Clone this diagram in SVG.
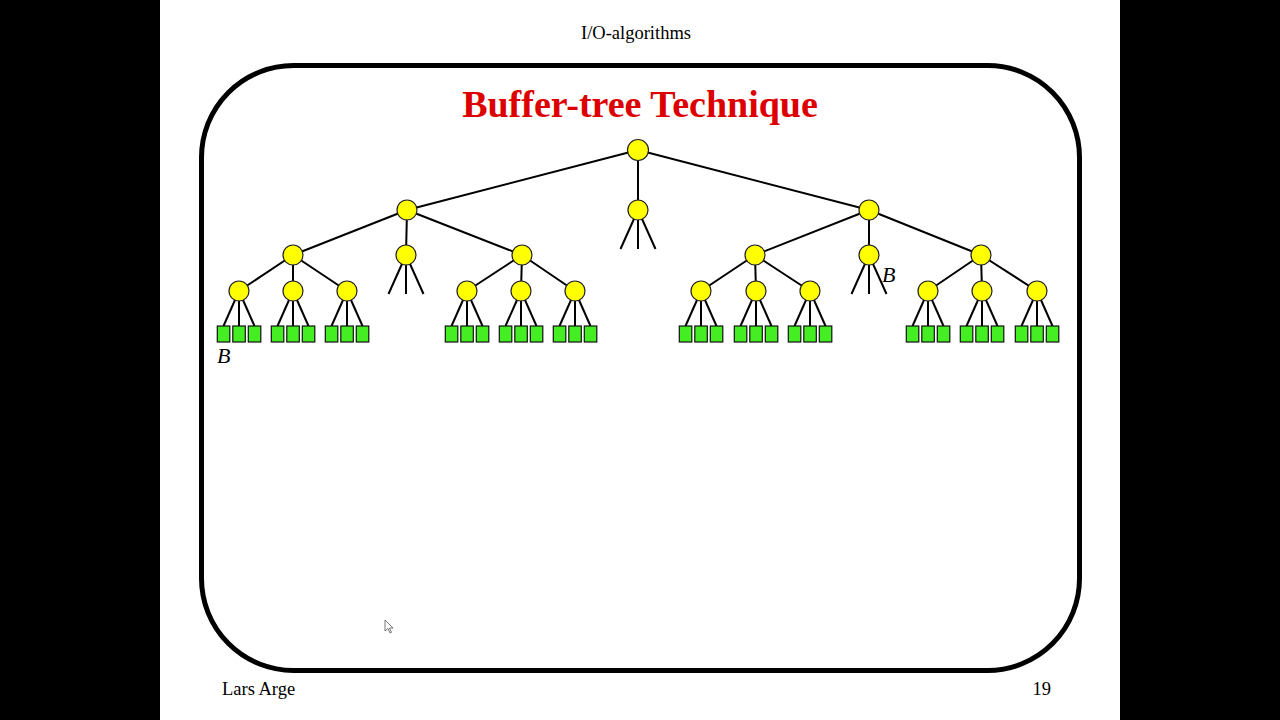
<svg xmlns="http://www.w3.org/2000/svg" width="1280" height="720" viewBox="0 0 1280 720">
<style>
.txt{font-family:"Liberation Serif","Times New Roman",serif;fill:#000}
.n{fill:#ffff00;stroke:#222;stroke-width:1.2}
.l{fill:#44ee22;stroke:#111;stroke-width:1.2}
.e{stroke:#000;stroke-width:2;fill:none}
</style>
<defs>
<g id="leaf3">
<line class="e" x1="0" y1="0" x2="-15.5" y2="35"/>
<line class="e" x1="0" y1="0" x2="0" y2="35"/>
<line class="e" x1="0" y1="0" x2="15.5" y2="35"/>
<rect class="l" x="-21.7" y="35" width="12.5" height="16"/>
<rect class="l" x="-6.2" y="35" width="12.5" height="16"/>
<rect class="l" x="9.3" y="35" width="12.5" height="16"/>
<circle class="n" cx="0" cy="0" r="10"/>
</g>
<g id="stub">
<line class="e" x1="0" y1="0" x2="-17.5" y2="39"/>
<line class="e" x1="0" y1="0" x2="0" y2="39"/>
<line class="e" x1="0" y1="0" x2="17.5" y2="39"/>
<circle class="n" cx="0" cy="0" r="10"/>
</g>
</defs>
<rect x="0" y="0" width="1280" height="720" fill="#000"/>
<rect x="160" y="0" width="960" height="720" fill="#fff"/>
<rect x="201.5" y="65.5" width="878" height="605" rx="92" ry="92" fill="none" stroke="#000" stroke-width="5"/>
<text class="txt" x="636" y="39" font-size="18.5" text-anchor="middle">I/O-algorithms</text>
<text class="txt" x="640" y="117" font-size="38" font-weight="bold" text-anchor="middle" style="fill:#dd0000">Buffer-tree Technique</text>
<text class="txt" x="222" y="695" font-size="18.5">Lars Arge</text>
<text class="txt" x="1051" y="695" font-size="18.5" text-anchor="end">19</text>
<g id="connectors">
<line class="e" x1="638" y1="150" x2="407" y2="210"/>
<line class="e" x1="638" y1="150" x2="638" y2="210"/>
<line class="e" x1="638" y1="150" x2="869" y2="210"/>
<line class="e" x1="407" y1="210" x2="293" y2="255"/>
<line class="e" x1="407" y1="210" x2="406" y2="255"/>
<line class="e" x1="407" y1="210" x2="522" y2="255"/>
<line class="e" x1="869" y1="210" x2="755" y2="255"/>
<line class="e" x1="869" y1="210" x2="869" y2="255"/>
<line class="e" x1="869" y1="210" x2="981" y2="255"/>
<line class="e" x1="293" y1="255" x2="239" y2="291"/>
<line class="e" x1="293" y1="255" x2="293" y2="291"/>
<line class="e" x1="293" y1="255" x2="347" y2="291"/>
<line class="e" x1="522" y1="255" x2="467" y2="291"/>
<line class="e" x1="522" y1="255" x2="521" y2="291"/>
<line class="e" x1="522" y1="255" x2="575" y2="291"/>
<line class="e" x1="755" y1="255" x2="701" y2="291"/>
<line class="e" x1="755" y1="255" x2="756" y2="291"/>
<line class="e" x1="755" y1="255" x2="810" y2="291"/>
<line class="e" x1="981" y1="255" x2="928" y2="291"/>
<line class="e" x1="981" y1="255" x2="982" y2="291"/>
<line class="e" x1="981" y1="255" x2="1037" y2="291"/>
</g>
<g id="root"><circle class="n" cx="638" cy="150" r="10.5"/></g>
<g id="n1a"><circle class="n" cx="407" cy="210" r="10"/></g>
<g id="n1b"><use href="#stub" x="638" y="210"/></g>
<g id="n1c"><circle class="n" cx="869" cy="210" r="10"/></g>
<g id="n2a"><circle class="n" cx="293" cy="255" r="10"/></g>
<g id="n2b"><use href="#stub" x="406" y="255"/></g>
<g id="n2c"><circle class="n" cx="522" cy="255" r="10"/></g>
<g id="n2d"><circle class="n" cx="755" cy="255" r="10"/></g>
<g id="n2e"><use href="#stub" x="869" y="255"/></g>
<g id="n2f"><circle class="n" cx="981" cy="255" r="10"/></g>
<g id="n3a"><use href="#leaf3" x="239" y="291"/></g>
<g id="n3b"><use href="#leaf3" x="293" y="291"/></g>
<g id="n3c"><use href="#leaf3" x="347" y="291"/></g>
<g id="n3d"><use href="#leaf3" x="467" y="291"/></g>
<g id="n3e"><use href="#leaf3" x="521" y="291"/></g>
<g id="n3f"><use href="#leaf3" x="575" y="291"/></g>
<g id="n3g"><use href="#leaf3" x="701" y="291"/></g>
<g id="n3h"><use href="#leaf3" x="756" y="291"/></g>
<g id="n3i"><use href="#leaf3" x="810" y="291"/></g>
<g id="n3j"><use href="#leaf3" x="928" y="291"/></g>
<g id="n3k"><use href="#leaf3" x="982" y="291"/></g>
<g id="n3l"><use href="#leaf3" x="1037" y="291"/></g>
<text class="txt" x="217" y="363" font-size="22" font-style="italic">B</text>
<text class="txt" x="882" y="282" font-size="22" font-style="italic">B</text>
<path d="M385,620 L385,631 L388,628.5 L390,633 L391.5,632.3 L389.5,628 L393,628 Z" fill="#fff" stroke="#555" stroke-width="0.8"/>
</svg>
